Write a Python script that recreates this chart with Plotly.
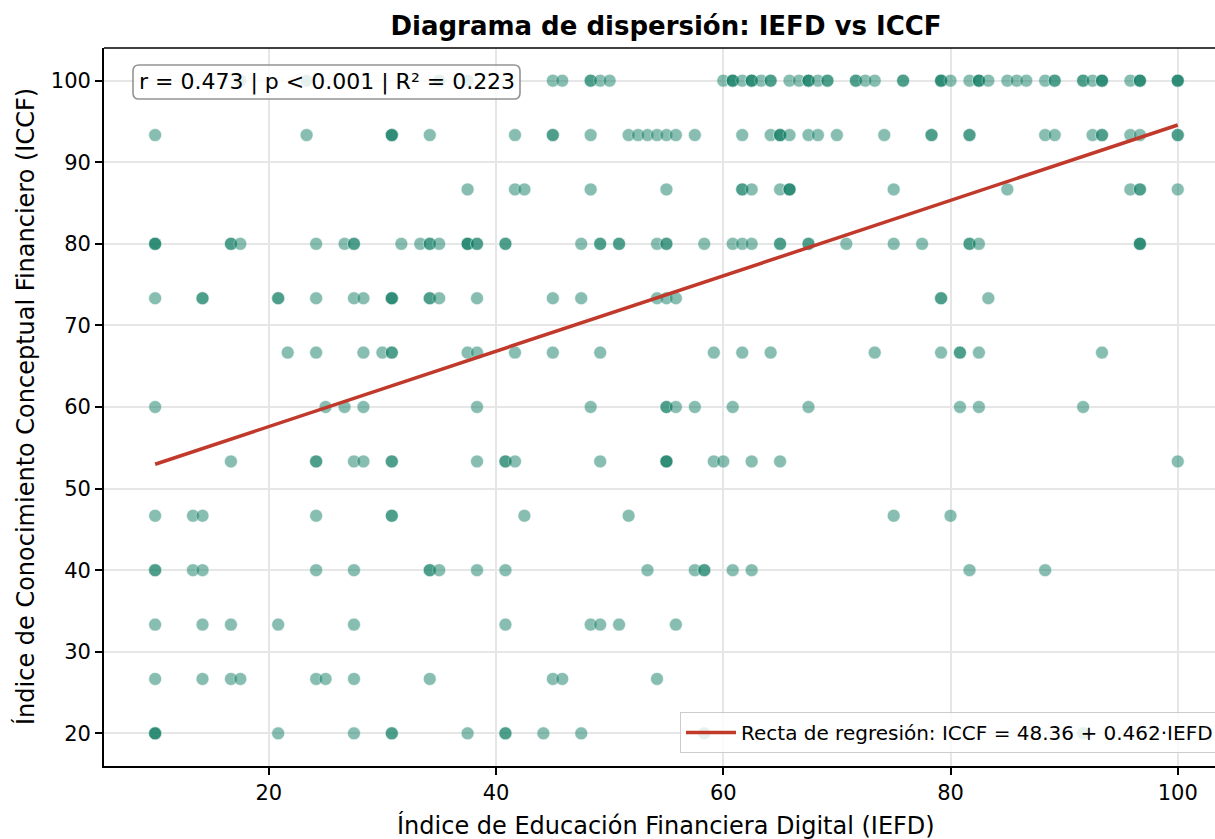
import plotly.graph_objects as go

# ICCF levels (rows) and the IEFD values read at each level (repeats = overlapping points)
iccf_levels = [100.0, 93.33, 86.67, 80.0, 73.33, 66.67, 60.0, 53.33, 46.67, 40.0, 33.33, 26.67, 20.0]

iefd_at_100 = [17.5, 23.33, 35.0, 37.5, 45.0, 45.83, 48.33, 48.33, 49.17, 50.0, 60.0,
               60.83, 60.83, 60.83, 61.67, 62.5, 62.5, 62.5, 63.33, 64.17, 64.17, 65.83,
               66.67, 67.5, 67.5, 67.5, 68.33, 69.17, 69.17, 71.67, 71.67, 72.5, 73.33,
               75.83, 75.83, 79.17, 79.17, 79.17, 80.0, 81.67, 82.5, 82.5, 82.5, 83.33,
               85.0, 85.83, 86.67, 88.33, 89.17, 89.17, 91.67, 91.67, 92.5, 93.33, 93.33,
               93.33, 95.83, 96.67, 96.67, 96.67, 100.0, 100.0, 100.0]
iefd_at_93 = [10.0, 23.33, 30.83, 30.83, 30.83, 34.17, 41.67, 45.0, 45.0, 48.33, 51.67,
              52.5, 53.33, 54.17, 55.0, 55.83, 57.5, 61.67, 64.17, 65.0, 65.0, 65.0, 65.83,
              67.5, 68.33, 70.0, 74.17, 78.33, 78.33, 81.67, 81.67, 88.33, 89.17, 92.5,
              93.33, 93.33, 95.83, 96.67, 100.0, 100.0]
iefd_at_87 = [37.5, 41.67, 42.5, 48.33, 55.0, 61.67, 61.67, 62.5, 65.0, 65.83, 65.83,
              65.83, 75.0, 85.0, 95.83, 96.67, 96.67, 100.0]
iefd_at_80 = [10.0, 10.0, 10.0, 16.67, 16.67, 17.5, 24.17, 26.67, 27.5, 27.5, 31.67,
              33.33, 34.17, 34.17, 35.0, 37.5, 37.5, 37.5, 38.33, 38.33, 40.83, 40.83,
              47.5, 49.17, 49.17, 50.83, 50.83, 54.17, 55.0, 55.0, 58.33, 60.83, 61.67,
              62.5, 65.0, 65.0, 67.5, 67.5, 70.83, 75.0, 77.5, 81.67, 81.67, 82.5,
              96.67, 96.67, 96.67]
iefd_at_73 = [10.0, 14.17, 14.17, 20.83, 20.83, 24.17, 27.5, 28.33, 30.83, 30.83, 30.83,
              34.17, 34.17, 35.0, 38.33, 45.0, 47.5, 54.17, 55.0, 55.83, 79.17, 79.17, 83.33]
iefd_at_67 = [21.67, 24.17, 28.33, 30.0, 30.83, 30.83, 37.5, 38.33, 41.67, 45.0, 49.17,
              59.17, 61.67, 64.17, 73.33, 79.17, 80.83, 80.83, 82.5, 93.33]
iefd_at_60 = [10.0, 25.0, 26.67, 28.33, 38.33, 48.33, 55.0, 55.0, 55.83, 57.5, 60.83,
              67.5, 80.83, 82.5, 91.67]
iefd_at_53 = [16.67, 24.17, 24.17, 27.5, 28.33, 30.83, 30.83, 38.33, 40.83, 40.83, 41.67,
              49.17, 55.0, 55.0, 55.0, 59.17, 60.0, 62.5, 65.0, 100.0]
iefd_at_47 = [10.0, 13.33, 14.17, 24.17, 30.83, 30.83, 42.5, 51.67, 75.0, 80.0]
iefd_at_40 = [10.0, 10.0, 13.33, 14.17, 24.17, 27.5, 34.17, 34.17, 35.0, 38.33, 40.83,
              53.33, 57.5, 58.33, 58.33, 60.83, 62.5, 81.67, 88.33]
iefd_at_33 = [10.0, 14.17, 16.67, 20.83, 27.5, 40.83, 48.33, 49.17, 50.83, 55.83]
iefd_at_27 = [10.0, 14.17, 16.67, 17.5, 24.17, 25.0, 27.5, 34.17, 45.0, 45.83, 54.17]
iefd_at_20 = [10.0, 10.0, 10.0, 20.83, 27.5, 30.83, 30.83, 37.5, 40.83, 40.83, 44.17,
              47.5, 58.33, 91.67]

iefd_rows = [iefd_at_100, iefd_at_93, iefd_at_87, iefd_at_80, iefd_at_73, iefd_at_67,
             iefd_at_60, iefd_at_53, iefd_at_47, iefd_at_40, iefd_at_33, iefd_at_27,
             iefd_at_20]

# Regression coefficients as printed in the legend
intercept = 48.36
slope = 0.462
stats_text = "r = 0.473 | p < 0.001 | R² = 0.223"
x_ticks = [20, 40, 60, 80, 100]
y_ticks = [20, 30, 40, 50, 60, 70, 80, 90, 100]

iefd = []
iccf = []
for level, row in zip(iccf_levels, iefd_rows):
    iefd.extend(row)
    iccf.extend([level] * len(row))

x_line = [min(iefd), max(iefd)]
y_line = [intercept + slope * v for v in x_line]

FONT = "DejaVu Sans"

fig = go.Figure()
fig.add_trace(go.Scatter(
    x=iefd, y=iccf, mode="markers", showlegend=False,
    marker=dict(size=13, color="#147f66", opacity=0.5,
                line=dict(color="white", width=0.6)),
    hoverinfo="skip"))
fig.add_trace(go.Scatter(
    x=x_line, y=y_line, mode="lines",
    name=f"Recta de regresión: ICCF = {intercept:.2f} + {slope:.3f}·IEFD",
    line=dict(color="#c0392b", width=3.5)))

L, R, T, B = 104, 0, 48, 73
W, H = 1215, 839
pw, ph = W - L - R, H - T - B

def px(xp):
    return (xp - L) / pw

def py(yp):
    return (H - B - yp) / ph

# top spine (the right spine lies outside the picture in the reference)
fig.add_shape(type="line", xref="paper", yref="paper", x0=0, x1=1.02, y0=1, y1=1,
              line=dict(color="black", width=1.7), layer="above")

# rounded box for stats text
bx0, bx1, by0, by1, rad = 133, 520, 65, 99, 6
def rr_path(x0, y0, x1, y1, r):
    X = lambda v: f"{px(v):.5f}"
    Y = lambda v: f"{py(v):.5f}"
    return (f"M {X(x0+r)},{Y(y0)} L {X(x1-r)},{Y(y0)} Q {X(x1)},{Y(y0)} {X(x1)},{Y(y0+r)} "
            f"L {X(x1)},{Y(y1-r)} Q {X(x1)},{Y(y1)} {X(x1-r)},{Y(y1)} "
            f"L {X(x0+r)},{Y(y1)} Q {X(x0)},{Y(y1)} {X(x0)},{Y(y1-r)} "
            f"L {X(x0)},{Y(y0+r)} Q {X(x0)},{Y(y0)} {X(x0+r)},{Y(y0)} Z")

fig.add_shape(type="path", xref="paper", yref="paper",
              path=rr_path(bx0, by0, bx1, by1, rad),
              fillcolor="rgba(255,255,255,0.8)",
              line=dict(color="rgba(128,128,128,0.85)", width=1.6), layer="above")

fig.add_annotation(xref="paper", yref="paper", x=px((bx0 + bx1) / 2), y=py((by0 + by1) / 2),
                   text=stats_text, showarrow=False, xanchor="center", yanchor="middle",
                   font=dict(family=FONT, size=22, color="black"))

fig.add_annotation(xref="paper", yref="paper", x=px(666), y=py(825),
                   text="Índice de Educación Financiera Digital (IEFD)", showarrow=False,
                   xanchor="center", yanchor="middle",
                   font=dict(family=FONT, size=24, color="black"))
fig.add_annotation(xref="paper", yref="paper", x=px(25), y=py(407), textangle=-90,
                   text="Índice de Conocimiento Conceptual Financiero (ICCF)", showarrow=False,
                   xanchor="center", yanchor="middle",
                   font=dict(family=FONT, size=24, color="black"))

fig.update_layout(
    width=W, height=H,
    margin=dict(l=L, r=R, t=T, b=B, autoexpand=False),
    paper_bgcolor="white", plot_bgcolor="white",
    title=dict(text="<b>Diagrama de dispersión: IEFD vs ICCF</b>",
               x=px(666), xref="paper", xanchor="center",
               y=1 - 26 / H, yref="container", yanchor="middle",
               font=dict(family=FONT, size=26, color="black")),
    showlegend=True,
    legend=dict(x=px(680), y=py(753), xanchor="left", yanchor="bottom",
                itemwidth=50,
                bgcolor="rgba(255,255,255,0.8)", bordercolor="#cccccc", borderwidth=1,
                font=dict(family=FONT, size=20, color="black")),
    font=dict(family=FONT, color="black"),
)
fig.update_xaxes(range=[5.5, 5.5 + pw / 11.3625], tickvals=x_ticks,
                 showgrid=True, gridcolor="#e6e6e6", gridwidth=1.5,
                 showline=True, linecolor="black", linewidth=1.7, mirror=False,
                 ticks="outside", ticklen=7, tickwidth=1.5, tickcolor="black",
                 tickfont=dict(family=FONT, size=21, color="black"), zeroline=False)
fig.update_yaxes(range=[16, 104], tickvals=y_ticks,
                 showgrid=True, gridcolor="#e6e6e6", gridwidth=1.5,
                 showline=True, linecolor="black", linewidth=1.7, mirror=False,
                 ticks="outside", ticklen=7, tickwidth=1.5, tickcolor="black",
                 tickfont=dict(family=FONT, size=21, color="black"), zeroline=False)

fig.write_html("out.html")
